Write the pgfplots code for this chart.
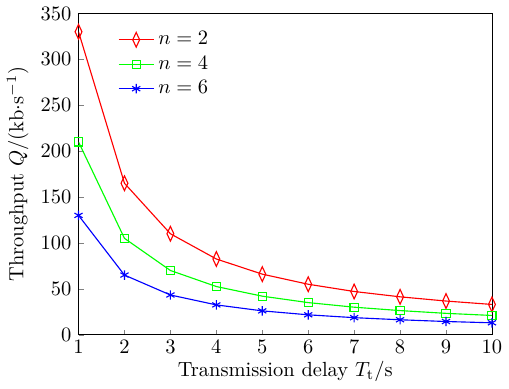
\documentclass[border=0pt]{standalone}
\usepackage{pgfplots}
\pgfplotsset{compat=1.18}
\begin{document}
\begin{tikzpicture}
\begin{axis}[
  width=202pt, height=157pt, scale only axis,
  xmin=1, xmax=10, ymin=0, ymax=350,
  xtick={1,...,10}, ytick={0,50,...,350},
  tick pos=left, tick align=inside, major tick length=2.5pt,
  xlabel={Transmission delay $T_{\mathrm{t}}$/s},
  ylabel={Throughput $Q$/(kb$\cdot$s$^{-1}$)},
  xticklabel style={yshift=1pt},
  xlabel style={yshift=3pt},
  ylabel style={yshift=-1pt},
  legend style={draw=none, fill=none, at={(0.08,0.97)}, anchor=north west, row sep=0pt},
  legend cell align=left,
]
\addplot[red, line width=0.55pt, mark=diamond, mark size=3.6pt, mark options={xscale=0.62}] coordinates {
(1,330) (2,165) (3,110) (4,82.5) (5,66) (6,55) (7,47.1) (8,41.3) (9,36.7) (10,33)};
\addlegendentry{$n=2$}
\addplot[green, line width=0.55pt, mark=square, mark size=2pt] coordinates {
(1,210) (2,105) (3,70) (4,52.5) (5,42) (6,35) (7,30) (8,26.3) (9,23.3) (10,21)};
\addlegendentry{$n=4$}
\addplot[blue, line width=0.55pt, mark=asterisk, mark size=2.3pt] coordinates {
(1,130) (2,65) (3,43.3) (4,32.5) (5,26) (6,21.7) (7,18.6) (8,16.3) (9,14.4) (10,13)};
\addlegendentry{$n=6$}
\end{axis}
\end{tikzpicture}
\end{document}
